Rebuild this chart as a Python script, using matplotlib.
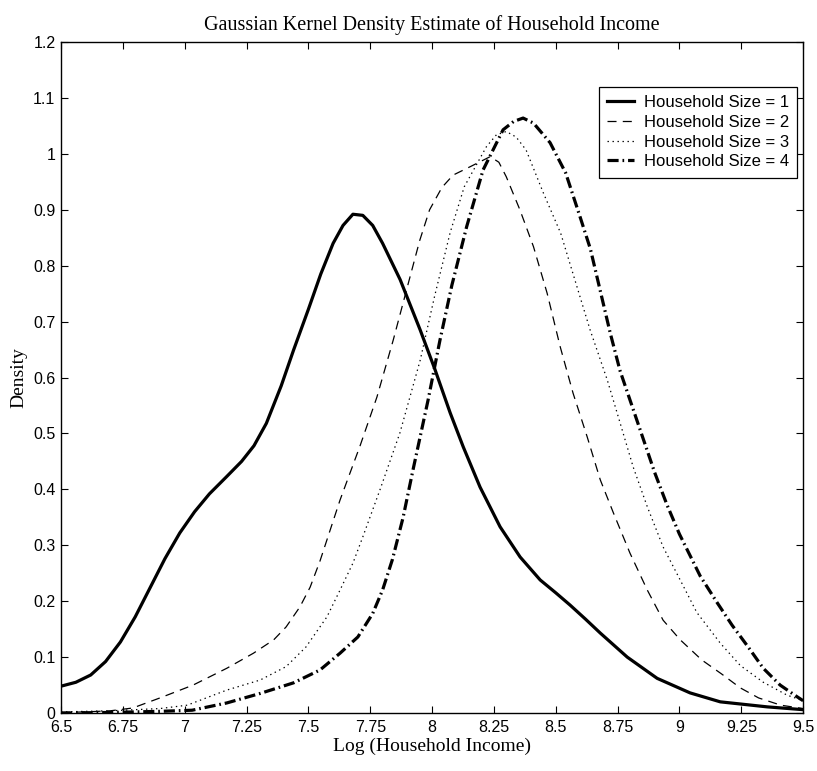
import numpy as np
import matplotlib
matplotlib.use('Agg')
import matplotlib.pyplot as plt

# log household income (x) and density (y)
# household size = 1
x_size1 = [6.5, 6.56, 6.62, 6.68, 6.74, 6.8, 6.86, 6.92, 6.98, 7.04, 7.1, 7.17, 7.23, 7.28,
           7.33, 7.39, 7.44, 7.5, 7.55, 7.6, 7.64, 7.68, 7.72, 7.76, 7.8, 7.871, 7.952, 8.012,
           8.073, 8.126, 8.194, 8.275, 8.356, 8.437, 8.5, 8.558, 8.62, 8.68, 8.789, 8.91, 9.043,
           9.165, 9.355, 9.5]
y_size1 = [0.048, 0.055, 0.068, 0.092, 0.127, 0.172, 0.224, 0.276, 0.322, 0.360, 0.392, 0.423, 0.450, 0.478,
           0.518, 0.585, 0.649, 0.722, 0.785, 0.840, 0.872, 0.892, 0.890, 0.872, 0.840, 0.775, 0.685, 0.614,
           0.537, 0.476, 0.404, 0.333, 0.279, 0.238, 0.215, 0.193, 0.168, 0.143, 0.100, 0.062, 0.036,
           0.020, 0.011, 0.006]

# household size = 2
x_size2 = [6.5, 6.6, 6.7, 6.79, 6.9, 7.034, 7.17, 7.278, 7.36, 7.41, 7.466, 7.507, 7.547,
           7.628, 7.709, 7.777, 7.843, 7.9, 7.95, 7.99, 8.04, 8.085, 8.154, 8.235, 8.27, 8.3,
           8.355, 8.41, 8.465, 8.518, 8.57, 8.627, 8.68, 8.733, 8.8, 8.87, 8.934, 9.003, 9.09,
           9.17, 9.246, 9.32, 9.41, 9.5]
y_size2 = [0.001, 0.002, 0.004, 0.009, 0.027, 0.050, 0.080, 0.107, 0.131, 0.154, 0.190, 0.225, 0.272,
           0.381, 0.478, 0.565, 0.667, 0.762, 0.845, 0.900, 0.940, 0.962, 0.977, 0.995, 0.985, 0.959,
           0.900, 0.834, 0.751, 0.655, 0.572, 0.494, 0.417, 0.358, 0.286, 0.220, 0.166, 0.131, 0.095,
           0.070, 0.045, 0.027, 0.014, 0.008]

# household size = 3
x_size3 = [6.5, 6.7, 6.9, 7.01, 7.17, 7.305, 7.41, 7.49, 7.575, 7.628, 7.68, 7.72, 7.79,
           7.87, 7.952, 8.01, 8.073, 8.13, 8.22, 8.26, 8.3, 8.34, 8.38, 8.45, 8.52, 8.586,
           8.639, 8.708, 8.76, 8.813, 8.87, 8.934, 9.003, 9.07, 9.165, 9.246, 9.339, 9.435, 9.5]
y_size3 = [0.002, 0.004, 0.008, 0.014, 0.041, 0.059, 0.083, 0.118, 0.172, 0.220, 0.268, 0.315, 0.400,
           0.501, 0.631, 0.745, 0.859, 0.941, 1.013, 1.034, 1.040, 1.030, 1.007, 0.930, 0.858, 0.762,
           0.685, 0.596, 0.519, 0.440, 0.369, 0.297, 0.238, 0.180, 0.125, 0.085, 0.055, 0.032, 0.022]

# household size = 4
x_size4 = [6.5, 6.7, 6.9, 7.03, 7.17, 7.305, 7.44, 7.547, 7.628, 7.7, 7.76, 7.8, 7.84,
           7.883, 7.923, 7.984, 8.032, 8.08, 8.14, 8.206, 8.287, 8.33, 8.368, 8.41, 8.477, 8.54,
           8.6, 8.64, 8.68, 8.72, 8.76, 8.8, 8.85, 8.9, 8.95, 9.0, 9.084, 9.153, 9.213,
           9.278, 9.339, 9.407, 9.476, 9.5]
y_size4 = [0.0, 0.001, 0.003, 0.005, 0.018, 0.035, 0.054, 0.077, 0.107, 0.136, 0.178, 0.220, 0.275,
           0.350, 0.435, 0.560, 0.667, 0.765, 0.870, 0.971, 1.043, 1.058, 1.064, 1.055, 1.020, 0.966,
           0.885, 0.830, 0.755, 0.680, 0.612, 0.560, 0.495, 0.430, 0.372, 0.320, 0.245, 0.197, 0.157,
           0.118, 0.080, 0.050, 0.029, 0.022]

labels = ['Household Size = 1', 'Household Size = 2', 'Household Size = 3', 'Household Size = 4']
x_ticks = [6.5, 6.75, 7, 7.25, 7.5, 7.75, 8, 8.25, 8.5, 8.75, 9, 9.25, 9.5]
x_ticklabels = ['6.5', '6.75', '7', '7.25', '7.5', '7.75', '8', '8.25', '8.5', '8.75', '9', '9.25', '9.5']
y_ticks = [0, 0.1, 0.2, 0.3, 0.4, 0.5, 0.6, 0.7, 0.8, 0.9, 1.0, 1.1, 1.2]
y_ticklabels = ['0', '0.1', '0.2', '0.3', '0.4', '0.5', '0.6', '0.7', '0.8', '0.9', '1', '1.1', '1.2']

plt.rcParams['lines.scale_dashes'] = False
sans = ['Liberation Sans', 'DejaVu Sans']
serif = ['Liberation Serif', 'DejaVu Serif']

fig = plt.figure(figsize=(8.17, 7.71), dpi=100)
ax = fig.add_axes([0.0747, 0.0752, 0.9083, 0.8703])

ax.plot(x_size1, y_size1, color='black', lw=2.3, linestyle='-', label=labels[0])
ax.plot(x_size2, y_size2, color='black', lw=0.9, dashes=(6.5, 4.5), label=labels[1])
ax.plot(x_size3, y_size3, color='black', lw=0.9, dashes=(1.0, 2.6), label=labels[2])
ax.plot(x_size4, y_size4, color='black', lw=2.3, dashes=(8.0, 2.8, 1.2, 2.8), label=labels[3])

# axes config, matlab style
ax.set_xlim(6.5, 9.5)
ax.set_ylim(0, 1.2)
ax.set_xticks(x_ticks)
ax.set_xticklabels(x_ticklabels)
ax.set_yticks(y_ticks)
ax.set_yticklabels(y_ticklabels)
ax.tick_params(direction='in', length=5, width=0.8, top=True, right=True, labelsize=11.5)
ax.tick_params(axis='x', pad=5)
ax.tick_params(axis='y', pad=4)
for lab in ax.get_xticklabels() + ax.get_yticklabels():
    lab.set_family(sans)
for sp in ax.spines.values():
    sp.set_linewidth(1.0)

ax.set_title('Gaussian Kernel Density Estimate of Household Income', family=serif, fontsize=14.5, pad=9)
ax.set_xlabel('Log (Household Income)', family=serif, fontsize=14, labelpad=2)
ax.set_ylabel('Density', family=serif, fontsize=14, labelpad=4)

leg = ax.legend(loc='upper right', bbox_to_anchor=(0.992, 0.933), borderaxespad=0,
                prop={'family': sans, 'size': 12}, fancybox=False, framealpha=1,
                edgecolor='black', handlelength=1.6, handletextpad=0.6,
                labelspacing=0.28, borderpad=0.5)
leg.get_frame().set_linewidth(0.9)

fig.savefig('out.png', dpi=100)
